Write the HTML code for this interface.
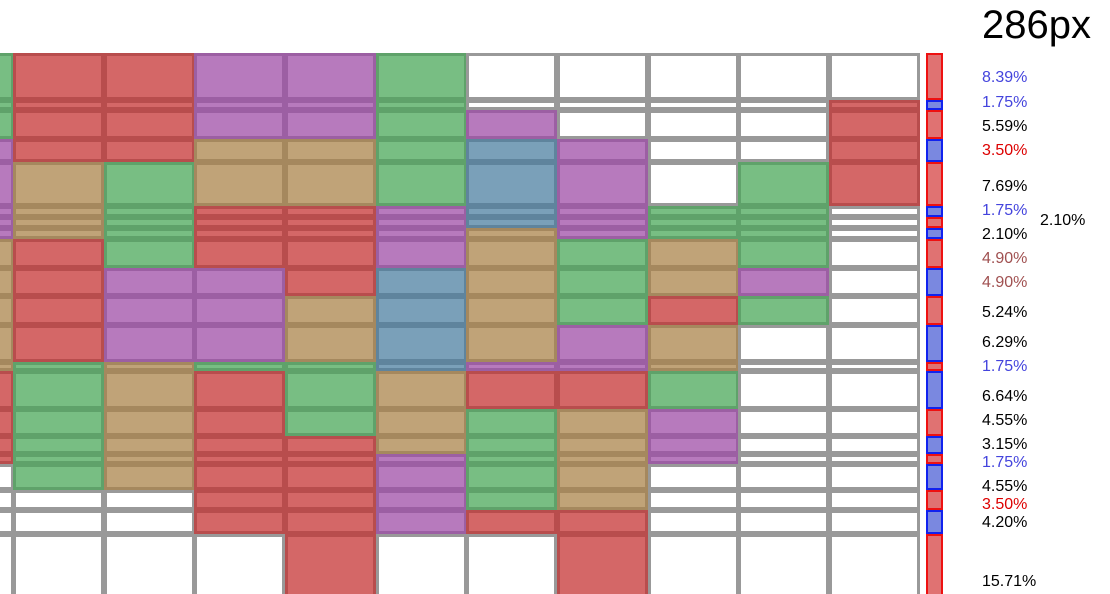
<!DOCTYPE html>
<html><head><meta charset="utf-8"><style>
body{margin:0;background:#fff;width:1110px;height:594px;overflow:hidden}
svg{position:absolute;left:0;top:0}
.W{fill:#fff;stroke:#999;stroke-width:3}
.R{fill:#d46767;stroke:#b84d4d;stroke-width:3}
.P{fill:#b77abd;stroke:#9c5fa3;stroke-width:3}
.T{fill:#c0a378;stroke:#a5885e;stroke-width:3}
.G{fill:#78be83;stroke:#5fa26a;stroke-width:3}
.B{fill:#7aa0b9;stroke:#5f849d;stroke-width:3}
.br{fill:#e07272;stroke:#ee1111;stroke-width:2}
.bb{fill:#7a88e0;stroke:#1122ee;stroke-width:2}
</style></head><body>
<svg width="1110" height="594" xmlns="http://www.w3.org/2000/svg">
<defs>
<rect id="r0" x="1.5" y="54.5" width="88" height="44"/>
<rect id="r1" x="1.5" y="101.5" width="88" height="7"/>
<rect id="r2" x="1.5" y="111.5" width="88" height="26"/>
<rect id="r3" x="1.5" y="140.5" width="88" height="20"/>
<rect id="r4" x="1.5" y="163.5" width="88" height="41"/>
<rect id="r5" x="1.5" y="207.5" width="88" height="8"/>
<rect id="r6" x="1.5" y="218.5" width="88" height="8"/>
<rect id="r7" x="1.5" y="229.5" width="88" height="8"/>
<rect id="r8" x="1.5" y="240.5" width="88" height="26"/>
<rect id="r9" x="1.5" y="269.5" width="88" height="25"/>
<rect id="r10" x="1.5" y="297.5" width="88" height="26"/>
<rect id="r11" x="1.5" y="326.5" width="88" height="34"/>
<rect id="r12" x="1.5" y="363.5" width="88" height="6"/>
<rect id="r13" x="1.5" y="372.5" width="88" height="35"/>
<rect id="r14" x="1.5" y="410.5" width="88" height="24"/>
<rect id="r15" x="1.5" y="437.5" width="88" height="15"/>
<rect id="r16" x="1.5" y="455.5" width="88" height="7"/>
<rect id="r17" x="1.5" y="465.5" width="88" height="23"/>
<rect id="r18" x="1.5" y="491.5" width="88" height="17"/>
<rect id="r19" x="1.5" y="511.5" width="88" height="21"/>
<rect id="r20" x="1.5" y="535.5" width="88" height="60"/>
</defs>
<!-- c0 -->
<g transform="translate(-77,0)">
<use href="#r0" class="G"/><use href="#r1" class="G"/><use href="#r2" class="G"/><use href="#r3" class="P"/><use href="#r4" class="P"/><use href="#r5" class="P"/><use href="#r6" class="P"/><use href="#r7" class="P"/><use href="#r8" class="T"/><use href="#r9" class="T"/><use href="#r10" class="T"/><use href="#r11" class="T"/><use href="#r12" class="T"/><use href="#r13" class="R"/><use href="#r14" class="R"/><use href="#r15" class="R"/><use href="#r16" class="R"/><use href="#r17" class="W"/><use href="#r18" class="W"/><use href="#r19" class="W"/><use href="#r20" class="W"/>
</g>
<!-- c1 -->
<g transform="translate(13,0)">
<use href="#r0" class="R"/><use href="#r1" class="R"/><use href="#r2" class="R"/><use href="#r3" class="R"/><use href="#r4" class="T"/><use href="#r5" class="T"/><use href="#r6" class="T"/><use href="#r7" class="T"/><use href="#r8" class="R"/><use href="#r9" class="R"/><use href="#r10" class="R"/><use href="#r11" class="R"/><use href="#r12" class="G"/><use href="#r13" class="G"/><use href="#r14" class="G"/><use href="#r15" class="G"/><use href="#r16" class="G"/><use href="#r17" class="G"/><use href="#r18" class="W"/><use href="#r19" class="W"/><use href="#r20" class="W"/>
</g>
<!-- c2 -->
<g transform="translate(104,0)">
<use href="#r0" class="R"/><use href="#r1" class="R"/><use href="#r2" class="R"/><use href="#r3" class="R"/><use href="#r4" class="G"/><use href="#r5" class="G"/><use href="#r6" class="G"/><use href="#r7" class="G"/><use href="#r8" class="G"/><use href="#r9" class="P"/><use href="#r10" class="P"/><use href="#r11" class="P"/><use href="#r12" class="T"/><use href="#r13" class="T"/><use href="#r14" class="T"/><use href="#r15" class="T"/><use href="#r16" class="T"/><use href="#r17" class="T"/><use href="#r18" class="W"/><use href="#r19" class="W"/><use href="#r20" class="W"/>
</g>
<!-- c3 -->
<g transform="translate(194,0)">
<use href="#r0" class="P"/><use href="#r1" class="P"/><use href="#r2" class="P"/><use href="#r3" class="T"/><use href="#r4" class="T"/><use href="#r5" class="R"/><use href="#r6" class="R"/><use href="#r7" class="R"/><use href="#r8" class="R"/><use href="#r9" class="P"/><use href="#r10" class="P"/><use href="#r11" class="P"/><use href="#r12" class="G"/><use href="#r13" class="R"/><use href="#r14" class="R"/><use href="#r15" class="R"/><use href="#r16" class="R"/><use href="#r17" class="R"/><use href="#r18" class="R"/><use href="#r19" class="R"/><use href="#r20" class="W"/>
</g>
<!-- c4 -->
<g transform="translate(285,0)">
<use href="#r0" class="P"/><use href="#r1" class="P"/><use href="#r2" class="P"/><use href="#r3" class="T"/><use href="#r4" class="T"/><use href="#r5" class="R"/><use href="#r6" class="R"/><use href="#r7" class="R"/><use href="#r8" class="R"/><use href="#r9" class="R"/><use href="#r10" class="T"/><use href="#r11" class="T"/><use href="#r12" class="G"/><use href="#r13" class="G"/><use href="#r14" class="G"/><use href="#r15" class="R"/><use href="#r16" class="R"/><use href="#r17" class="R"/><use href="#r18" class="R"/><use href="#r19" class="R"/><use href="#r20" class="R"/>
</g>
<!-- c5 -->
<g transform="translate(376,0)">
<use href="#r0" class="G"/><use href="#r1" class="G"/><use href="#r2" class="G"/><use href="#r3" class="G"/><use href="#r4" class="G"/><use href="#r5" class="P"/><use href="#r6" class="P"/><use href="#r7" class="P"/><use href="#r8" class="P"/><use href="#r9" class="B"/><use href="#r10" class="B"/><use href="#r11" class="B"/><use href="#r12" class="B"/><use href="#r13" class="T"/><use href="#r14" class="T"/><use href="#r15" class="T"/><use href="#r16" class="P"/><use href="#r17" class="P"/><use href="#r18" class="P"/><use href="#r19" class="P"/><use href="#r20" class="W"/>
</g>
<!-- c6 -->
<g transform="translate(466,0)">
<use href="#r0" class="W"/><use href="#r1" class="W"/><use href="#r2" class="P"/><use href="#r3" class="B"/><use href="#r4" class="B"/><use href="#r5" class="B"/><use href="#r6" class="B"/><use href="#r7" class="T"/><use href="#r8" class="T"/><use href="#r9" class="T"/><use href="#r10" class="T"/><use href="#r11" class="T"/><use href="#r12" class="P"/><use href="#r13" class="R"/><use href="#r14" class="G"/><use href="#r15" class="G"/><use href="#r16" class="G"/><use href="#r17" class="G"/><use href="#r18" class="G"/><use href="#r19" class="R"/><use href="#r20" class="W"/>
</g>
<!-- c7 -->
<g transform="translate(557,0)">
<use href="#r0" class="W"/><use href="#r1" class="W"/><use href="#r2" class="W"/><use href="#r3" class="P"/><use href="#r4" class="P"/><use href="#r5" class="P"/><use href="#r6" class="P"/><use href="#r7" class="P"/><use href="#r8" class="G"/><use href="#r9" class="G"/><use href="#r10" class="G"/><use href="#r11" class="P"/><use href="#r12" class="P"/><use href="#r13" class="R"/><use href="#r14" class="T"/><use href="#r15" class="T"/><use href="#r16" class="T"/><use href="#r17" class="T"/><use href="#r18" class="T"/><use href="#r19" class="R"/><use href="#r20" class="R"/>
</g>
<!-- c8 -->
<g transform="translate(648,0)">
<use href="#r0" class="W"/><use href="#r1" class="W"/><use href="#r2" class="W"/><use href="#r3" class="W"/><use href="#r4" class="W"/><use href="#r5" class="G"/><use href="#r6" class="G"/><use href="#r7" class="G"/><use href="#r8" class="T"/><use href="#r9" class="T"/><use href="#r10" class="R"/><use href="#r11" class="T"/><use href="#r12" class="T"/><use href="#r13" class="G"/><use href="#r14" class="P"/><use href="#r15" class="P"/><use href="#r16" class="P"/><use href="#r17" class="W"/><use href="#r18" class="W"/><use href="#r19" class="W"/><use href="#r20" class="W"/>
</g>
<!-- c9 -->
<g transform="translate(738,0)">
<use href="#r0" class="W"/><use href="#r1" class="W"/><use href="#r2" class="W"/><use href="#r3" class="W"/><use href="#r4" class="G"/><use href="#r5" class="G"/><use href="#r6" class="G"/><use href="#r7" class="G"/><use href="#r8" class="G"/><use href="#r9" class="P"/><use href="#r10" class="G"/><use href="#r11" class="W"/><use href="#r12" class="W"/><use href="#r13" class="W"/><use href="#r14" class="W"/><use href="#r15" class="W"/><use href="#r16" class="W"/><use href="#r17" class="W"/><use href="#r18" class="W"/><use href="#r19" class="W"/><use href="#r20" class="W"/>
</g>
<!-- c10 -->
<g transform="translate(829,0)">
<use href="#r0" class="W"/><use href="#r1" class="R"/><use href="#r2" class="R"/><use href="#r3" class="R"/><use href="#r4" class="R"/><use href="#r5" class="W"/><use href="#r6" class="W"/><use href="#r7" class="W"/><use href="#r8" class="W"/><use href="#r9" class="W"/><use href="#r10" class="W"/><use href="#r11" class="W"/><use href="#r12" class="W"/><use href="#r13" class="W"/><use href="#r14" class="W"/><use href="#r15" class="W"/><use href="#r16" class="W"/><use href="#r17" class="W"/><use href="#r18" class="W"/><use href="#r19" class="W"/><use href="#r20" class="W"/>
</g>
<!-- bar -->
<g>
<rect class="br" x="927" y="54" width="15" height="45"/>
<rect class="bb" x="927" y="101" width="15" height="8"/>
<rect class="br" x="927" y="111" width="15" height="27"/>
<rect class="bb" x="927" y="140" width="15" height="21"/>
<rect class="br" x="927" y="163" width="15" height="42"/>
<rect class="bb" x="927" y="207" width="15" height="9"/>
<rect class="br" x="927" y="218" width="15" height="9"/>
<rect class="bb" x="927" y="229" width="15" height="9"/>
<rect class="br" x="927" y="240" width="15" height="27"/>
<rect class="bb" x="927" y="269" width="15" height="26"/>
<rect class="br" x="927" y="297" width="15" height="27"/>
<rect class="bb" x="927" y="326" width="15" height="35"/>
<rect class="br" x="927" y="363" width="15" height="7"/>
<rect class="bb" x="927" y="372" width="15" height="36"/>
<rect class="br" x="927" y="410" width="15" height="25"/>
<rect class="bb" x="927" y="437" width="15" height="16"/>
<rect class="br" x="927" y="455" width="15" height="8"/>
<rect class="bb" x="927" y="465" width="15" height="24"/>
<rect class="br" x="927" y="491" width="15" height="18"/>
<rect class="bb" x="927" y="511" width="15" height="22"/>
<rect class="br" x="927" y="535" width="15" height="62"/>
</g>
<text x="982" y="38" font-size="40" fill="#000" font-family="Liberation Sans, sans-serif">286px</text>
<g font-family="Liberation Sans, sans-serif" font-size="16">
<text x="982" y="82" fill="#4444dd">8.39%</text>
<text x="982" y="107" fill="#4444dd">1.75%</text>
<text x="982" y="131" fill="#000">5.59%</text>
<text x="982" y="155" fill="#dd0000">3.50%</text>
<text x="982" y="191" fill="#000">7.69%</text>
<text x="982" y="215" fill="#4444dd">1.75%</text>
<text x="1040" y="225" fill="#000">2.10%</text>
<text x="982" y="239" fill="#000">2.10%</text>
<text x="982" y="263" fill="#a05050">4.90%</text>
<text x="982" y="287" fill="#a05050">4.90%</text>
<text x="982" y="317" fill="#000">5.24%</text>
<text x="982" y="347" fill="#000">6.29%</text>
<text x="982" y="371" fill="#4444dd">1.75%</text>
<text x="982" y="401" fill="#000">6.64%</text>
<text x="982" y="425" fill="#000">4.55%</text>
<text x="982" y="449" fill="#000">3.15%</text>
<text x="982" y="467" fill="#4444dd">1.75%</text>
<text x="982" y="491" fill="#000">4.55%</text>
<text x="982" y="509" fill="#dd0000">3.50%</text>
<text x="982" y="527" fill="#000">4.20%</text>
<text x="982" y="586" fill="#000">15.71%</text>
</g>
</svg>
</body></html>
